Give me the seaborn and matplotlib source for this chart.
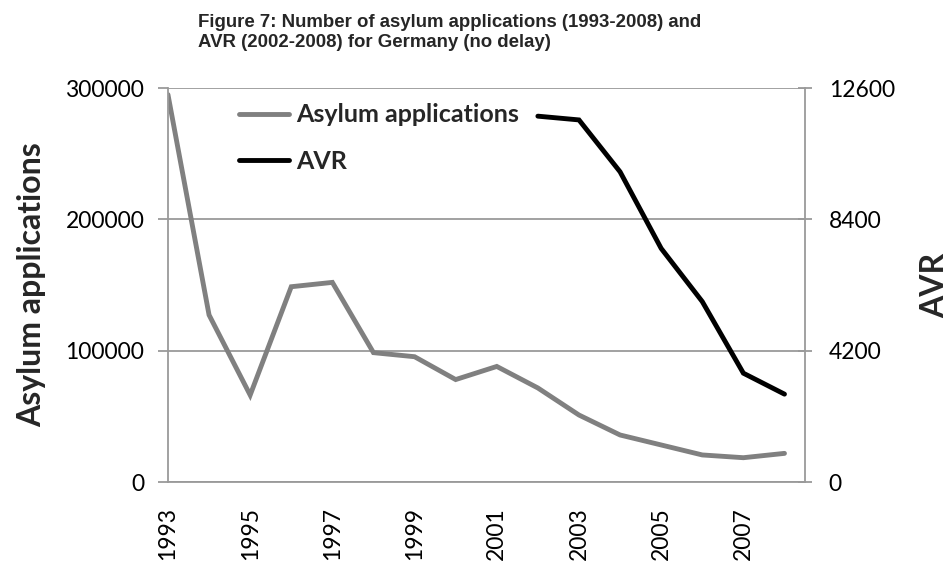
import matplotlib
matplotlib.use("Agg")
import matplotlib.pyplot as plt
from matplotlib.lines import Line2D
import seaborn as sns
import pandas as pd

# Annual figures
years = list(range(1993, 2009))
asylum_applications = [295000, 127200, 66200, 148700, 152000, 98500, 95400, 78000,
                       88000, 71600, 51000, 35800, 28200, 20600, 18500, 21800]
avr_years = list(range(2002, 2009))
avr_values = [11700, 11580, 9920, 7470, 5770, 3480, 2810]

left_ticks = [0, 100000, 200000, 300000]
right_ticks = [0, 4200, 8400, 12600]
label_years = list(range(1993, 2009, 2))

title = ("Figure 7: Number of asylum applications (1993-2008) and\n"
         "AVR (2002-2008) for Germany (no delay)")

sns.set_theme(style="white")
plt.rcParams["font.family"] = ["Lato", "DejaVu Sans"]

GRAY = "#808080"
AXIS_GRAY = "#9a9a9a"
LW = 3.5

df_asylum = pd.DataFrame({"year": years, "value": asylum_applications})
df_avr = pd.DataFrame({"year": avr_years, "value": avr_values})

fig = plt.figure(figsize=(9.5, 5.65), dpi=100)
ax = fig.add_axes([0.1768, 0.1469, 0.6706, 0.6973])
ax2 = ax.twinx()

sns.lineplot(data=df_asylum, x="year", y="value", ax=ax, color=GRAY,
             linewidth=LW, solid_capstyle="round", solid_joinstyle="miter")
sns.lineplot(data=df_avr, x="year", y="value", ax=ax2, color="black",
             linewidth=LW, solid_capstyle="round", solid_joinstyle="miter")

ax.set_xlim(1993, 2008.5)
ax.set_ylim(0, 300000)
ax2.set_ylim(0, 12600)

ax.set_yticks(left_ticks)
ax.set_yticklabels([str(t) for t in left_ticks])
ax2.set_yticks(right_ticks)
ax2.set_yticklabels([str(t) for t in right_ticks])

ax.set_xticks(years)
ax.set_xticklabels([str(y) if y in label_years else "" for y in years], rotation=90)

for a in (ax, ax2):
    a.grid(False)
    for s in a.spines.values():
        s.set_visible(False)

ax.yaxis.grid(True, color=AXIS_GRAY, linewidth=1.3)
ax.set_axisbelow(True)
ax.spines["left"].set_visible(True)
ax.spines["bottom"].set_visible(True)
ax2.spines["right"].set_visible(True)
for s in (ax.spines["left"], ax.spines["bottom"], ax2.spines["right"]):
    s.set_color(AXIS_GRAY)
    s.set_linewidth(1.3)

ax.tick_params(axis="y", direction="out", length=7, width=1.3, color=AXIS_GRAY,
               labelsize=16.5, labelcolor="black", pad=10)
ax.tick_params(axis="x", direction="out", length=6, width=1.3, color=AXIS_GRAY,
               labelsize=16.5, labelcolor="black", pad=12)
ax2.tick_params(axis="y", direction="inout", length=10, width=1.3, color=AXIS_GRAY,
                labelsize=16.5, labelcolor="black", pad=12)

ax.set_xlabel("")
ax.set_ylabel("Asylum applications", fontsize=23, fontweight="bold", labelpad=14)
ax2.set_ylabel("AVR", fontsize=23, fontweight="bold", labelpad=18)

fig.text(0.208, 0.975, title, fontsize=13.4, fontweight="bold", ha="left", va="top",
         family=["Liberation Sans", "DejaVu Sans"], linespacing=1.2)

handles = [Line2D([0], [0], color=GRAY, linewidth=LW, solid_capstyle="round"),
           Line2D([0], [0], color="black", linewidth=LW, solid_capstyle="round")]
ax.legend(handles, ["Asylum applications", "AVR"], loc="upper left",
          bbox_to_anchor=(0.076, 1.018), frameon=False, handlelength=2.0,
          handletextpad=0.3, labelspacing=0.95,
          prop={"size": 18, "weight": "bold"})

fig.savefig("out.png", dpi=100, facecolor="white")
